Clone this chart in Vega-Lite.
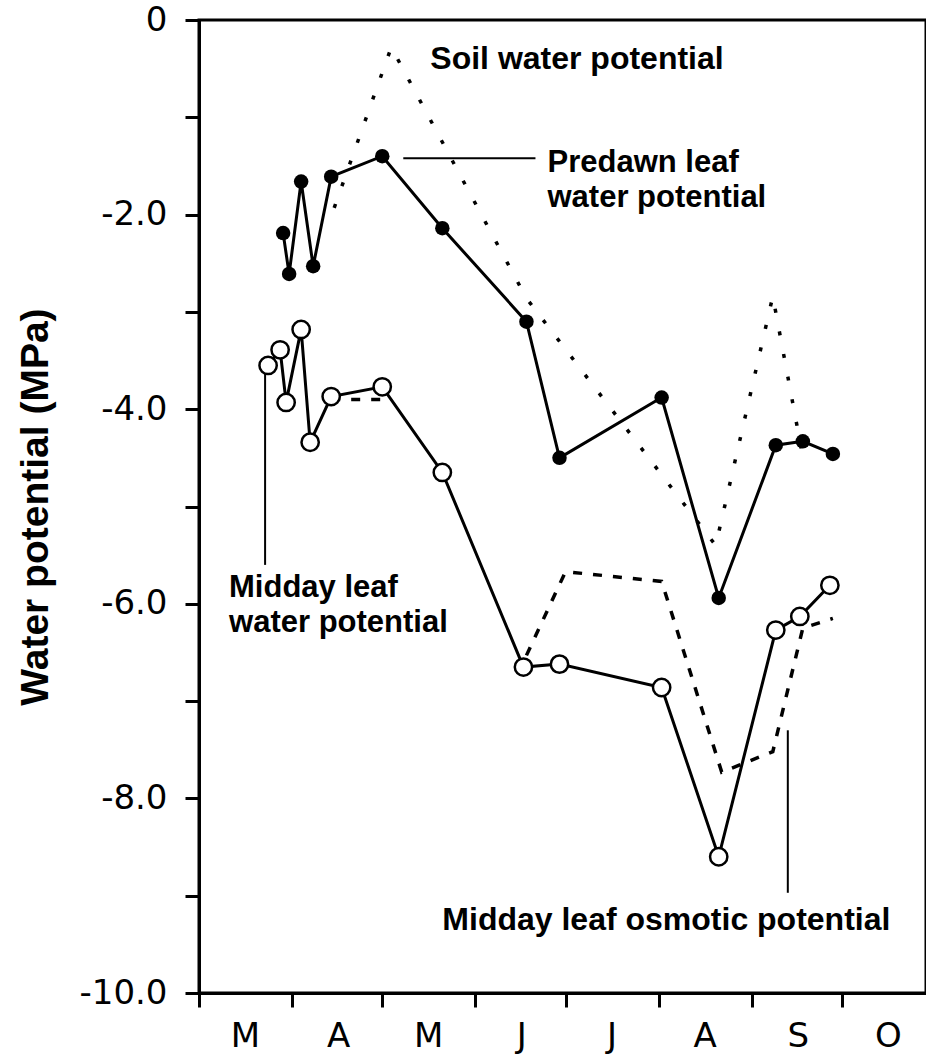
{
  "$schema": "https://vega.github.io/schema/vega-lite/v6.json",
  "width": 727,
  "height": 973,
  "autosize": {"type": "none"},
  "padding": {"left": 199, "top": 20, "right": 0, "bottom": 69},
  "background": "white",
  "config": {
    "view": {"stroke": "black", "strokeWidth": 3},
    "axis": {"grid": false, "domainColor": "black", "tickColor": "black", "labelColor": "black", "titleColor": "black", "domainWidth": 3, "tickWidth": 3}
  },
  "datasets": {
    "predawn": [
      {"date": "2001-03-29", "value": -2.19},
      {"date": "2001-03-31", "value": -2.61},
      {"date": "2001-04-04", "value": -1.66},
      {"date": "2001-04-08", "value": -2.53},
      {"date": "2001-04-14", "value": -1.61},
      {"date": "2001-05-01", "value": -1.40},
      {"date": "2001-05-21", "value": -2.14},
      {"date": "2001-06-18", "value": -3.10},
      {"date": "2001-06-29", "value": -4.50},
      {"date": "2001-08-02", "value": -3.88},
      {"date": "2001-08-21", "value": -5.94},
      {"date": "2001-09-09", "value": -4.37},
      {"date": "2001-09-18", "value": -4.33},
      {"date": "2001-09-28", "value": -4.46}
    ],
    "midday": [
      {"date": "2001-03-24", "value": -3.55},
      {"date": "2001-03-28", "value": -3.39},
      {"date": "2001-03-30", "value": -3.93},
      {"date": "2001-04-04", "value": -3.18},
      {"date": "2001-04-07", "value": -4.34},
      {"date": "2001-04-14", "value": -3.87},
      {"date": "2001-05-01", "value": -3.77},
      {"date": "2001-05-21", "value": -4.65},
      {"date": "2001-06-17", "value": -6.65},
      {"date": "2001-06-29", "value": -6.62},
      {"date": "2001-08-02", "value": -6.86},
      {"date": "2001-08-21", "value": -8.60},
      {"date": "2001-09-09", "value": -6.27},
      {"date": "2001-09-17", "value": -6.13},
      {"date": "2001-09-27", "value": -5.81}
    ],
    "soil": [
      {"date": "2001-04-15", "value": -1.93},
      {"date": "2001-05-04", "value": -0.28},
      {"date": "2001-06-18", "value": -2.86},
      {"date": "2001-08-20", "value": -5.40},
      {"date": "2001-09-08", "value": -2.84},
      {"date": "2001-09-18", "value": -4.49}
    ],
    "osmotic": [
      {"seg": 1, "date": "2001-04-14", "value": -3.90},
      {"seg": 1, "date": "2001-05-01", "value": -3.90},
      {"seg": 2, "date": "2001-06-18", "value": -6.53},
      {"seg": 2, "date": "2001-07-01", "value": -5.67},
      {"seg": 2, "date": "2001-08-02", "value": -5.77},
      {"seg": 2, "date": "2001-08-22", "value": -7.73},
      {"seg": 2, "date": "2001-09-08", "value": -7.52},
      {"seg": 2, "date": "2001-09-18", "value": -6.25},
      {"seg": 2, "date": "2001-09-28", "value": -6.15}
    ],
    "leaders": [
      {"date": "2001-05-08", "date2": "2001-06-21", "value": -1.42, "value2": -1.42},
      {"date": "2001-03-23", "date2": "2001-03-23", "value": -3.62, "value2": -5.60},
      {"date": "2001-09-13", "date2": "2001-09-13", "value": -7.30, "value2": -8.97}
    ],
    "labels": [
      {"date": "2001-05-17", "value": -0.50, "label": "Soil water potential"},
      {"date": "2001-05-21", "value": -9.35, "label": "Midday leaf osmotic potential"}
    ],
    "labels2": [
      {"date": "2001-06-25", "value": -1.56, "label": "Predawn leaf\nwater potential"},
      {"date": "2001-03-11", "value": -5.93, "label": "Midday leaf\nwater potential"}
    ]
  },
  "encoding": {
    "x": {
      "field": "date", "type": "temporal",
      "scale": {"type": "utc", "domain": ["2001-03-01", "2001-10-29"], "nice": false},
      "axis": {
        "title": null,
        "tickCount": {"interval": "month", "step": 1},
        "labelExpr": "['J','F','M','A','M','J','J','A','S','O','N','D'][utcmonth(datum.value)]",
        "labelOffset": 46, "labelFlush": false, "labelOverlap": false, "labelBound": false,
        "labelAlign": "center",
        "tickSize": 14, "labelPadding": 12,
        "labelFont": "DejaVu Sans", "labelFontSize": 34
      }
    },
    "y": {
      "field": "value", "type": "quantitative",
      "scale": {"domain": [-10, 0], "nice": false, "zero": false},
      "axis": {
        "title": "Water potential (MPa)",
        "values": [-10, -9, -8, -7, -6, -5, -4, -3, -2, -1, 0],
        "labelExpr": "datum.value == 0 ? '0' : (datum.value % 2 == 0 ? '-' + format(abs(datum.value), '.1f') : '')",
        "labelOverlap": false, "labelBound": false, "labelFlush": false,
        "tickSize": 14, "labelPadding": 18,
        "labelFont": "DejaVu Sans", "labelFontSize": 34,
        "titleFont": "Liberation Sans", "titleFontSize": 39, "titleFontWeight": "bold",
        "titlePadding": 24
      }
    }
  },
  "layer": [
    {
      "data": {"name": "soil"},
      "mark": {"type": "line", "color": "black", "strokeWidth": 3.5, "strokeDash": [4, 19], "strokeCap": "butt"}
    },
    {
      "data": {"name": "osmotic"},
      "mark": {"type": "line", "color": "black", "strokeWidth": 3.5, "strokeDash": [9, 11]},
      "encoding": {"detail": {"field": "seg", "type": "nominal"}}
    },
    {
      "data": {"name": "predawn"},
      "mark": {"type": "line", "color": "black", "strokeWidth": 3}
    },
    {
      "data": {"name": "midday"},
      "mark": {"type": "line", "color": "black", "strokeWidth": 3}
    },
    {
      "data": {"name": "leaders"},
      "mark": {"type": "rule", "color": "black", "strokeWidth": 2},
      "encoding": {
        "x2": {"field": "date2"},
        "y2": {"field": "value2"}
      }
    },
    {
      "data": {"name": "predawn"},
      "mark": {"type": "point", "shape": "circle", "filled": true, "color": "black", "size": 210, "opacity": 1}
    },
    {
      "data": {"name": "midday"},
      "mark": {"type": "point", "shape": "circle", "filled": false, "fill": "white", "stroke": "black", "strokeWidth": 2.5, "size": 300, "opacity": 1, "fillOpacity": 1}
    },
    {
      "data": {"name": "labels"},
      "mark": {"type": "text", "align": "left", "baseline": "alphabetic", "font": "Liberation Sans", "fontWeight": "bold", "fontSize": 32, "color": "black"},
      "encoding": {"text": {"field": "label"}}
    },
    {
      "data": {"name": "labels2"},
      "mark": {"type": "text", "align": "left", "baseline": "alphabetic", "lineBreak": "\n", "lineHeight": 35, "font": "Liberation Sans", "fontWeight": "bold", "fontSize": 31, "color": "black"},
      "encoding": {"text": {"field": "label"}}
    }
  ]
}
